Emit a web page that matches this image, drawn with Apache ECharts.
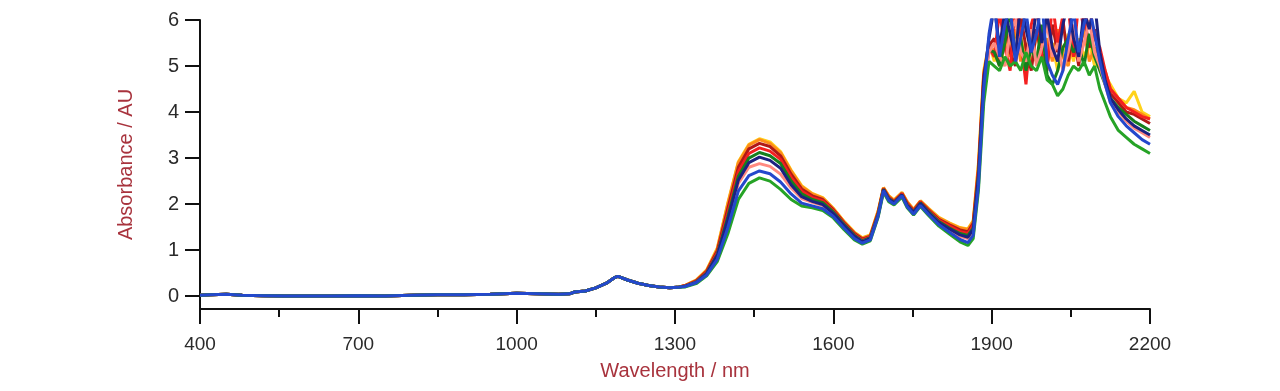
<!DOCTYPE html>
<html>
<head>
<meta charset="utf-8">
<script src="https://cdn.jsdelivr.net/npm/echarts@6/dist/echarts.min.js"></script>
<style>html,body{margin:0;padding:0;background:#fff;}#c{width:1280px;height:391px;}</style>
</head>
<body>
<div id="c"></div>
<script>
// Shared baseline part (all spectra overlap here)
const baseWavelengths = [400,420,450,480,520,560,600,650,700,750,800,850,900,950,1000,1040,1080,1100,1110,1130,1150,1170,1185,1192,1210,1230,1250,1270,1290,1305];
const baseValues = [0.02,0.03,0.04,0.02,0.01,0.0,0.0,0.0,0.01,0.0,0.02,0.03,0.03,0.04,0.06,0.05,0.04,0.05,0.09,0.11,0.18,0.28,0.40,0.43,0.35,0.28,0.23,0.20,0.18,0.19];

// Per-spectrum part
const wavelengths = [1320,1340,1360,1380,1400,1420,1440,1460,1480,1500,1520,1540,1560,1580,1600,1620,1640,1655,1670,1685,1695,1705,1715,1730,1740,1752,1765,1780,1800,1820,1840,1855,1865,1875,1885,1895,
  1905,1915,1925,1935,1945,1955,1965,1975,1985,1995,2005,2015,2025,2035,2045,2055,2065,2075,2085,2095,
  2105,2115,2125,2140,2155,2170,2185,2200];

const yellow = [0.24,0.35,0.57,1.04,2.02,2.92,3.30,3.42,3.35,3.14,2.74,2.40,2.23,2.14,1.91,1.63,1.39,1.27,1.33,1.86,2.36,2.18,2.09,2.25,2.05,1.89,2.07,1.91,1.71,1.59,1.49,1.46,1.64,2.90,4.90,5.50,
  5.1,5.5,5.0,5.6,5.2,5.7,5.0,5.4,5.1,5.8,5.2,5.5,4.9,5.3,5.7,5.1,5.6,5.2,5.5,5.0,
  5.0,4.8,4.6,4.3,4.2,4.45,4.0,3.9];
const orange = [0.24,0.34,0.56,1.02,2.00,2.90,3.28,3.40,3.32,3.12,2.72,2.38,2.22,2.13,1.90,1.62,1.38,1.26,1.32,1.85,2.36,2.18,2.08,2.25,2.05,1.88,2.07,1.90,1.70,1.58,1.48,1.45,1.62,2.85,4.85,5.50,
  5.3,5.0,5.6,5.2,5.8,5.1,5.5,5.0,5.7,5.3,5.6,5.1,5.8,5.2,5.0,5.6,5.3,5.8,5.1,5.4,
  5.2,4.9,4.5,4.3,4.1,4.05,3.95,3.85];
const darkRed = [0.23,0.33,0.54,0.98,1.90,2.80,3.20,3.32,3.25,3.05,2.65,2.33,2.18,2.10,1.88,1.60,1.36,1.24,1.30,1.82,2.34,2.15,2.06,2.23,2.02,1.86,2.05,1.88,1.67,1.55,1.44,1.40,1.58,2.75,4.80,5.45,
  5.6,5.0,5.9,5.3,5.0,6.1,5.4,4.9,5.8,5.2,5.0,5.9,5.3,6.0,5.1,5.7,5.0,6.1,5.4,5.8,
  5.1,4.7,4.4,4.2,4.0,3.95,3.85,3.75];
const red = [0.23,0.32,0.52,0.94,1.80,2.70,3.10,3.22,3.15,2.97,2.58,2.28,2.14,2.07,1.86,1.58,1.34,1.22,1.29,1.80,2.33,2.14,2.05,2.22,2.00,1.85,2.04,1.86,1.65,1.52,1.40,1.36,1.54,2.70,4.70,5.40,
  5.2,6.2,5.4,4.9,6.4,5.6,4.6,5.9,6.3,5.3,4.9,6.4,5.5,6.1,6.3,5.2,6.4,5.8,6.3,5.6,
  5.4,4.9,4.5,4.3,4.1,4.0,3.9,3.85];
const darkGreen = [0.22,0.31,0.50,0.90,1.72,2.60,3.00,3.12,3.05,2.88,2.50,2.22,2.10,2.03,1.83,1.56,1.32,1.20,1.27,1.78,2.32,2.12,2.04,2.20,1.98,1.83,2.02,1.84,1.62,1.48,1.36,1.32,1.48,2.60,4.60,5.35,
  5.3,5.0,5.5,6.2,5.2,5.6,4.9,5.4,5.1,5.9,4.8,4.6,4.9,5.4,5.6,5.3,5.5,5.0,5.7,5.2,
  4.9,4.6,4.3,4.1,3.95,3.8,3.7,3.6];
const salmon = [0.22,0.30,0.48,0.86,1.60,2.45,2.80,2.88,2.82,2.65,2.35,2.12,2.04,1.97,1.79,1.53,1.29,1.18,1.25,1.76,2.30,2.10,2.02,2.19,1.96,1.81,2.00,1.81,1.59,1.44,1.30,1.25,1.42,2.50,4.50,5.30,
  5.5,5.2,5.0,5.7,6.0,5.3,5.1,5.8,5.0,5.4,5.9,5.2,5.5,4.9,5.3,5.9,5.1,5.5,6.0,5.3,
  5.0,4.6,4.2,4.0,3.8,3.65,3.55,3.45];
const navy = [0.22,0.30,0.49,0.88,1.66,2.52,2.90,3.02,2.95,2.78,2.42,2.16,2.06,1.99,1.80,1.54,1.30,1.18,1.26,1.77,2.31,2.11,2.03,2.20,1.97,1.82,2.01,1.82,1.60,1.46,1.33,1.28,1.45,2.60,4.70,5.60,
  6.3,5.4,6.2,5.7,5.2,6.4,5.8,5.3,6.3,5.5,6.1,5.4,5.1,5.9,6.4,5.6,5.2,6.2,5.8,6.4,
  5.3,4.7,4.3,4.05,3.85,3.7,3.6,3.5];
const green = [0.20,0.27,0.44,0.75,1.35,2.10,2.45,2.57,2.50,2.32,2.10,1.96,1.92,1.86,1.70,1.45,1.22,1.13,1.20,1.72,2.26,2.05,1.98,2.15,1.92,1.76,1.95,1.76,1.52,1.35,1.18,1.10,1.25,2.30,4.20,5.10,
  5.0,4.9,5.2,5.0,5.1,4.9,5.3,5.0,4.9,5.2,4.7,4.6,4.35,4.5,4.8,5.0,4.9,5.1,4.8,5.0,
  4.5,4.2,3.9,3.6,3.45,3.3,3.2,3.1];
const blue = [0.21,0.29,0.46,0.80,1.48,2.28,2.62,2.72,2.66,2.48,2.22,2.02,1.96,1.90,1.73,1.48,1.25,1.15,1.22,1.74,2.29,2.08,2.00,2.18,1.94,1.78,1.97,1.78,1.55,1.39,1.23,1.16,1.32,2.40,4.50,5.70,
  6.4,5.2,5.9,6.3,5.1,5.6,6.2,5.3,5.7,6.4,5.1,4.8,4.6,4.9,5.6,6.2,5.3,5.9,6.3,5.7,
  5.1,4.6,4.2,3.9,3.7,3.55,3.4,3.3];

const xTicks = [400,700,1000,1300,1600,1900,2200];
const yTicks = [0,1,2,3,4,5,6];

const spectra = [
  {name:'yellow', color:'#ffd21a', values:yellow},
  {name:'orange', color:'#ff8c1a', values:orange},
  {name:'darkRed', color:'#b01818', values:darkRed},
  {name:'red', color:'#f42020', values:red},
  {name:'darkGreen', color:'#167f1e', values:darkGreen},
  {name:'salmon', color:'#ff8a80', values:salmon},
  {name:'navy', color:'#1c2180', values:navy},
  {name:'green', color:'#26a326', values:green},
  {name:'blue', color:'#2448cc', values:blue}
];

const allX = baseWavelengths.concat(wavelengths);
const series = spectra.map(s => ({
  type:'line', name:s.name, showSymbol:false, symbol:'none', clip:true,
  lineStyle:{color:s.color, width:3}, itemStyle:{color:s.color},
  data: allX.map((x,i) => [x, baseValues.concat(s.values)[i]])
}));

const axisColor = '#111';
const labelColor = '#2a2a2a';
const nameColor = '#a8333d';
const font = 'Liberation Sans, Arial, sans-serif';
const chart = echarts.init(document.getElementById('c'), null, {renderer:'canvas'});
chart.setOption({
  animation:false,
  backgroundColor:'#fff',
  grid:{left:200, right:130, top:20, bottom:82},
  xAxis:{
    type:'value', min:400, max:2200, interval:300,
    name:'Wavelength / nm', nameLocation:'middle', nameGap:52,
    nameTextStyle:{color:nameColor, fontSize:20, fontFamily:font},
    axisLine:{show:true, onZero:false, lineStyle:{color:axisColor, width:2}},
    axisTick:{show:true, length:15, lineStyle:{color:axisColor, width:2}, customValues:xTicks},
    minorTick:{show:true, splitNumber:2, length:8, lineStyle:{color:axisColor, width:2}},
    axisLabel:{color:labelColor, fontSize:19, margin:26, fontFamily:font, customValues:xTicks, formatter:v => String(v)},
    splitLine:{show:false}, minorSplitLine:{show:false}
  },
  yAxis:{
    type:'value', min:-0.28, max:6,
    name:'Absorbance / AU', nameLocation:'middle', nameGap:64,
    nameTextStyle:{color:nameColor, fontSize:20, fontFamily:font},
    axisLine:{show:true, onZero:false, lineStyle:{color:axisColor, width:2}},
    axisTick:{show:true, length:15, lineStyle:{color:axisColor, width:2}, customValues:yTicks},
    axisLabel:{color:labelColor, fontSize:20, margin:21, fontFamily:font, customValues:yTicks, formatter:v => String(v)},
    splitLine:{show:false}
  },
  series: series
});
</script>
</body>
</html>
